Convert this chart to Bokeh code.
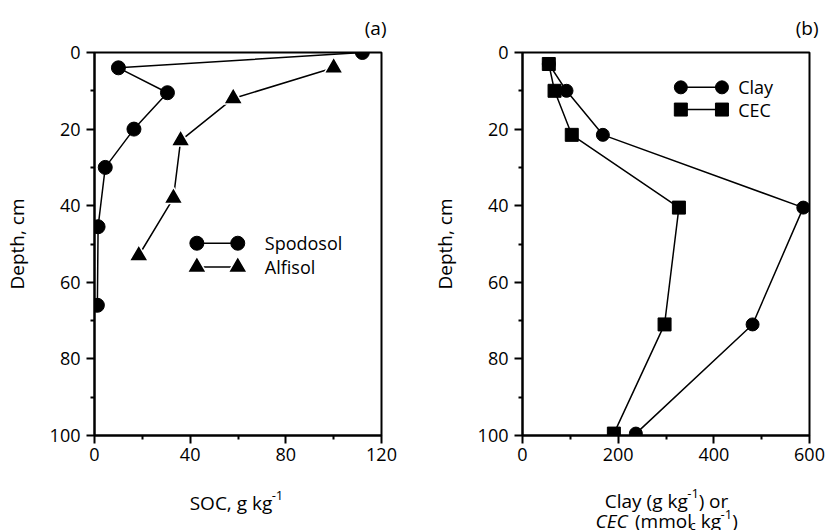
from bokeh.plotting import figure
from bokeh.layouts import column, row
from bokeh.models import Range1d, FixedTicker, Label
from bokeh.embed import file_html
from bokeh.resources import INLINE

# ---------------- data ----------------
spod_soc = [112, 10, 30.5, 16.5, 4.5, 1.5, 1.2]
spod_depth = [0, 4, 10.5, 20, 30, 45.5, 66]
alf_soc = [100, 58, 36, 33, 18.5]
alf_depth = [4, 12, 23, 38, 53]

clay = [55, 92, 168, 587, 481, 237]
clay_depth = [3, 10, 21.5, 40.5, 71, 99.5]
cec = [55, 67, 103, 327, 297, 191]
cec_depth = [3, 10, 21.5, 40.5, 71, 99.5]

depth_ticks = [0, 20, 40, 60, 80, 100]
depth_minor = [10, 30, 50, 70, 90]
soc_ticks = [0, 40, 80, 120]
soc_minor = [20, 60, 100]
cb_ticks = [0, 200, 400, 600]
cb_minor = [100, 300, 500]

FONT = "Open Sans"
FS = 18       # ticks, legend
FL = 19       # axis titles, panel tags
FSUP = 13     # super/subscripts
BOT_H = 52

# approximate Open Sans advance widths (em)
W = {' ': 0.26, '(': 0.28, ')': 0.28, 'C': 0.631, 'E': 0.556, 'l': 0.253,
     'a': 0.556, 'y': 0.5, 'g': 0.55, 'k': 0.5, 'm': 0.87, 'o': 0.6,
     'r': 0.408, 'S': 0.54, 'O': 0.78, ',': 0.245, '-': 0.322, '1': 0.572,
     'c': 0.476}


def tw(s, size):
    return sum(W.get(ch, 0.55) for ch in s) * size


def strip(width, height):
    s = figure(width=width, height=height, output_backend="svg",
               toolbar_location=None, x_range=Range1d(0, width),
               y_range=Range1d(height, 0), x_axis_type=None,
               y_axis_type=None, min_border=0)
    s.outline_line_color = None
    s.xgrid.visible = False
    s.ygrid.visible = False
    s.background_fill_color = "white"
    s.border_fill_color = "white"
    return s


def make_fig(xmax, xticks, xminor, left, right, tag, tag_offset):
    p = figure(frame_width=287, frame_height=383, output_backend="svg",
               toolbar_location=None, x_range=Range1d(0, xmax),
               y_range=Range1d(100, 0), min_border_left=left,
               min_border_right=right, min_border_top=52,
               min_border_bottom=530 - BOT_H - 435, title=tag)
    p.title.align = "right"
    p.title.offset = tag_offset
    p.title.standoff = 23
    p.title.text_font = FONT
    p.title.text_font_size = f"{FL}px"
    p.title.text_font_style = "normal"
    p.title.text_color = "black"
    p.background_fill_color = "white"
    p.border_fill_color = "white"
    p.xgrid.visible = False
    p.ygrid.visible = False
    p.outline_line_color = "black"
    p.outline_line_width = 2
    p.outline_line_alpha = 1
    p.xaxis.ticker = FixedTicker(ticks=xticks, minor_ticks=xminor)
    p.yaxis.ticker = FixedTicker(ticks=depth_ticks, minor_ticks=depth_minor)
    for ax in (p.xaxis, p.yaxis):
        ax.axis_line_width = 2
        ax.axis_line_color = "black"
        ax.major_tick_line_width = 2
        ax.minor_tick_line_width = 2
        ax.major_tick_line_color = "black"
        ax.minor_tick_line_color = "black"
        ax.major_tick_out = 8
        ax.major_tick_in = 0
        ax.minor_tick_out = 4
        ax.minor_tick_in = 0
        ax.major_label_text_font = FONT
        ax.major_label_text_font_size = f"{FS}px"
        ax.major_label_text_color = "black"
    p.yaxis.major_label_standoff = 6
    p.xaxis.major_label_standoff = 4
    p.yaxis.axis_label = "Depth, cm"
    p.yaxis.axis_label_text_font = FONT
    p.yaxis.axis_label_text_font_size = f"{FL}px"
    p.yaxis.axis_label_text_font_style = "normal"
    p.yaxis.axis_label_text_color = "black"
    p.yaxis.axis_label_standoff = 17
    return p


def add_pieces(p, xc, ybase, pieces):
    """pieces: (text, size, dy_px, style); a text of ' ' is just a gap."""
    total = sum(tw(t, s) for t, s, _, _ in pieces)
    off = -total / 2.0
    for t, s, dy, st in pieces:
        if t.strip():
            p.add_layout(Label(x=xc, y=ybase, x_offset=off, y_offset=dy,
                               text=t, text_font=FONT,
                               text_font_size=f"{s}px", text_font_style=st,
                               text_align="left", text_baseline="alphabetic",
                               text_color="black"))
        off += tw(t, s)


WA, WB = 412, 413

# ---------------- panel (a) ----------------
pa = make_fig(120, soc_ticks, soc_minor, 92, 33, "(a)", -5)
pa.line(spod_soc, spod_depth, line_color="black", line_width=1.5)
pa.scatter(spod_soc, spod_depth, marker="circle", size=14,
           fill_color="black", line_color="black")
pa.line(alf_soc, alf_depth, line_color="black", line_width=1.5)
pa.scatter(alf_soc, alf_depth, marker="triangle", size=19,
           fill_color="black", line_color="white", line_width=1.5)

# legend (a)
la_x = [42.8, 59.9]
pa.line(la_x, [49.8, 49.8], line_color="black", line_width=1.5)
pa.scatter(la_x, [49.8, 49.8], marker="circle", size=14, fill_color="black",
           line_color="black")
pa.line(la_x, [56.0, 56.0], line_color="black", line_width=1.5)
pa.scatter(la_x, [56.0, 56.0], marker="triangle", size=19, fill_color="black",
           line_color="white", line_width=1.5)
for txt, yy in (("Spodosol", 49.8), ("Alfisol", 56.0)):
    pa.add_layout(Label(x=71.2, y=yy, text=txt, text_font=FONT,
                        text_font_size=f"{FS}px", text_baseline="middle",
                        text_align="left", text_color="black"))

# ---------------- panel (b) ----------------
pb = make_fig(600, cb_ticks, cb_minor, 108, 18, "(b)", -9)
pb.line(clay, clay_depth, line_color="black", line_width=1.5)
pb.scatter(clay, clay_depth, marker="circle", size=13,
           fill_color="black", line_color="black")
pb.line(cec, cec_depth, line_color="black", line_width=1.5)
pb.scatter(cec, cec_depth, marker="square", size=13,
           fill_color="black", line_color="black")

lb_x = [331.0, 417.0]
pb.line(lb_x, [9.1, 9.1], line_color="black", line_width=1.5)
pb.scatter(lb_x, [9.1, 9.1], marker="circle", size=13, fill_color="black",
           line_color="black")
pb.line(lb_x, [14.9, 14.9], line_color="black", line_width=1.5)
pb.scatter(lb_x, [14.9, 14.9], marker="square", size=13, fill_color="black",
           line_color="black")
for txt, yy in (("Clay", 9.1), ("CEC", 14.9)):
    pb.add_layout(Label(x=451, y=yy, text=txt, text_font=FONT,
                        text_font_size=f"{FS}px", text_baseline="middle",
                        text_align="left", text_color="black"))

# ---------------- x-axis label strips ----------------
xa = strip(WA, BOT_H)
add_pieces(xa, 236, 24, [("SOC, g kg", FL, 0, "normal"),
                         ("-1", FSUP, 7, "normal")])
xb = strip(WB, BOT_H)
add_pieces(xb, 254, 22, [("Clay", FL, 0, "normal"),
                         (" ", FL, 0, "normal"),
                         ("(g kg", FL, 0, "normal"),
                         ("-1", FSUP, 7, "normal"),
                         (")", FL, 0, "normal"),
                         (" ", FL, 0, "normal"),
                         ("or", FL, 0, "normal")])
add_pieces(xb, 254, 42.5, [("CEC", FL, 0, "italic"),
                           (" ", FL, 0, "normal"),
                           ("(mmol", FL, 0, "normal"),
                           ("c", FSUP, -4, "normal"),
                           (" ", FL, 0, "normal"),
                           ("kg", FL, 0, "normal"),
                           ("-1", FSUP, 7, "normal"),
                           (")", FL, 0, "normal")])

layout = column(row(pa, pb), row(xa, xb))
open("out.html", "w").write(file_html(layout, INLINE))
